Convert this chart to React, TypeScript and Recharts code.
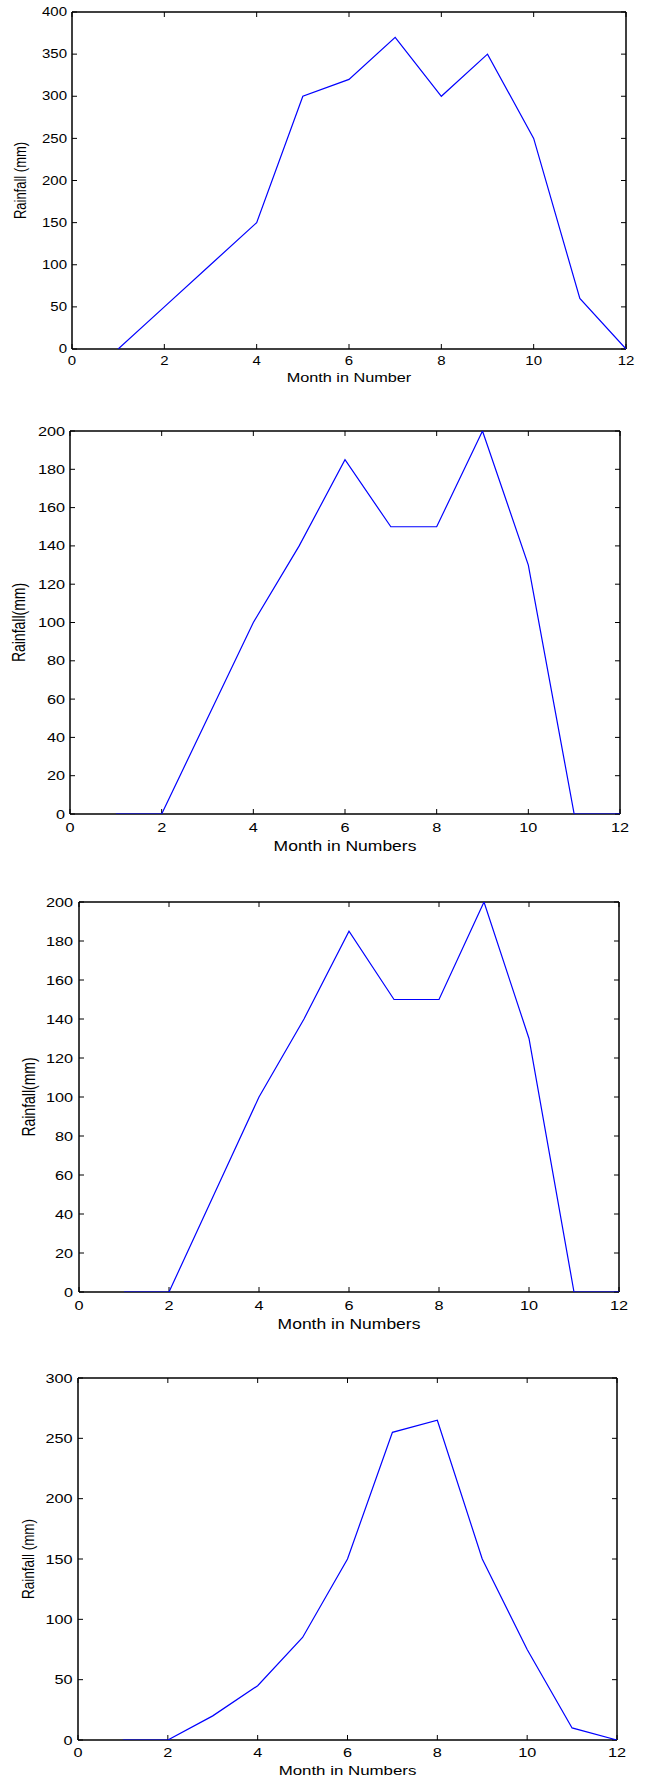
import React from 'react';
import { LineChart, Line, XAxis, YAxis, Label } from 'recharts';

// ---------- data ----------
const months = [1, 2, 3, 4, 5, 6, 7, 8, 9, 10, 11, 12];
const rain1 = [0, 50, 100, 150, 300, 320, 370, 300, 350, 250, 60, 0];
const rain2 = [0, 0, 50, 100, 140, 185, 150, 150, 200, 130, 0, 0];
const rain3 = [0, 0, 50, 100, 140, 185, 150, 150, 200, 130, 0, 0];
const rain4 = [0, 0, 20, 45, 85, 150, 255, 265, 150, 75, 10, 0];

const monthTicks = [0, 2, 4, 6, 8, 10, 12];
const yTicks1 = [0, 50, 100, 150, 200, 250, 300, 350, 400];
const yTicks2 = [0, 20, 40, 60, 80, 100, 120, 140, 160, 180, 200];
const yTicks3 = [0, 20, 40, 60, 80, 100, 120, 140, 160, 180, 200];
const yTicks4 = [0, 50, 100, 150, 200, 250, 300];

const yTitles = ['Rainfall (mm)', 'Rainfall(mm)', 'Rainfall(mm)', 'Rainfall (mm)'];
const xTitles = ['Month in Number', 'Month in Numbers', 'Month in Numbers', 'Month in Numbers'];

// ---------- styling ----------
const FONT = '"Liberation Sans", Arial, Helvetica, sans-serif';
const SX = 1.25; // horizontal stretch of text in the reference
const BLUE = '#0000ff';
const AXIS = '#000000';

type Panel = {
  values: number[];
  yTicks: number[];
  yTitle: string;
  xTitle: string;
  top: number;
  height: number;
  marginTop: number;
  marginRight: number;
  yAxisWidth: number;
  xAxisHeight: number;
  tickFs: number;
  titleFs: number;
  xTickGap: number;
  yTickGap: number;
  xTitleOff: number;
  yTitleX: number;
};

const panels: Panel[] = [
  { values: rain1, yTicks: yTicks1, yTitle: yTitles[0], xTitle: xTitles[0], top: 0, height: 400, marginTop: 12, marginRight: 25, yAxisWidth: 72, xAxisHeight: 51, tickFs: 12, titleFs: 13, xTickGap: 7, yTickGap: 5, xTitleOff: 28.5, yTitleX: 20 },
  { values: rain2, yTicks: yTicks2, yTitle: yTitles[1], xTitle: xTitles[1], top: 400, height: 460, marginTop: 31, marginRight: 31, yAxisWidth: 70, xAxisHeight: 46, tickFs: 13, titleFs: 14, xTickGap: 8.5, yTickGap: 5, xTitleOff: 31.7, yTitleX: 19 },
  { values: rain3, yTicks: yTicks3, yTitle: yTitles[2], xTitle: xTitles[2], top: 860, height: 480, marginTop: 42, marginRight: 32, yAxisWidth: 79, xAxisHeight: 48, tickFs: 13, titleFs: 14, xTickGap: 9, yTickGap: 6, xTitleOff: 32.3, yTitleX: 29 },
  { values: rain4, yTicks: yTicks4, yTitle: yTitles[3], xTitle: xTitles[3], top: 1340, height: 440, marginTop: 38, marginRight: 34, yAxisWidth: 78, xAxisHeight: 40, tickFs: 13, titleFs: 13.5, xTickGap: 7.5, yTickGap: 5.5, xTitleOff: 30, yTitleX: 28 },
];

const makeXTick = (fs: number) => (props: any) => {
  const { x, y, payload } = props;
  return (
    <text
      x={0}
      y={0}
      transform={`translate(${x},${y}) scale(${SX},1)`}
      textAnchor="middle"
      dy="0.71em"
      fontSize={fs}
      fontFamily={FONT}
      fill="#000"
    >
      {payload.value}
    </text>
  );
};

const makeYTick = (fs: number) => (props: any) => {
  const { x, y, payload } = props;
  return (
    <text
      x={0}
      y={0}
      transform={`translate(${x},${y}) scale(${SX},1)`}
      textAnchor="end"
      dy="0.35em"
      fontSize={fs}
      fontFamily={FONT}
      fill="#000"
    >
      {payload.value}
    </text>
  );
};

const emptyTick = () => <g />;

const makeXTitle = (text: string, off: number, fs: number) => (props: any) => {
  const vb = props.viewBox || {};
  const cx = vb.x + vb.width / 2;
  const cy = vb.y + off;
  return (
    <text
      x={0}
      y={0}
      transform={`translate(${cx},${cy}) scale(${SX},1)`}
      textAnchor="middle"
      dy="0.35em"
      fontSize={fs}
      fontFamily={FONT}
      fill="#000"
    >
      {text}
    </text>
  );
};

const makeYTitle = (text: string, px: number, fs: number) => (props: any) => {
  const vb = props.viewBox || {};
  const cx = vb.x + px;
  const cy = vb.y + vb.height / 2;
  return (
    <text
      x={0}
      y={0}
      transform={`translate(${cx},${cy}) scale(${SX},1) rotate(-90)`}
      textAnchor="middle"
      dy="0.35em"
      fontSize={fs}
      fontFamily={FONT}
      fill="#000"
    >
      {text}
    </text>
  );
};

function RainChart({ p }: { p: Panel }) {
  const data = months.map((m, i) => ({ m, v: p.values[i] }));
  const yMax = p.yTicks[p.yTicks.length - 1];
  const xDomain: [number, number] = [0, 12];
  const yDomain: [number, number] = [0, yMax];
  const tickLineStyle = { stroke: AXIS, strokeWidth: 1 };
  const axisLineStyle = { stroke: AXIS, strokeWidth: 1.5 };
  return (
    <LineChart
      width={651}
      height={p.height}
      data={data}
      margin={{ top: p.marginTop, right: p.marginRight, bottom: 0, left: 0 }}
    >
      {/* main axes with labels */}
      <XAxis
        xAxisId="b"
        dataKey="m"
        type="number"
        domain={xDomain}
        ticks={monthTicks}
        interval={0}
        allowDataOverflow
        height={p.xAxisHeight}
        axisLine={axisLineStyle}
        tickLine={false}
        tickSize={0}
        tickMargin={p.xTickGap}
        tick={makeXTick(p.tickFs)}
      >
        <Label content={makeXTitle(p.xTitle, p.xTitleOff, p.titleFs)} />
      </XAxis>
      <YAxis
        yAxisId="l"
        type="number"
        domain={yDomain}
        ticks={p.yTicks}
        interval={0}
        allowDataOverflow
        width={p.yAxisWidth}
        axisLine={axisLineStyle}
        tickLine={false}
        tickSize={0}
        tickMargin={p.yTickGap}
        tick={makeYTick(p.tickFs)}
      >
        <Label content={makeYTitle(p.yTitle, p.yTitleX, p.titleFs)} />
      </YAxis>

      {/* inward tick marks and the box (MATLAB style) */}
      <XAxis
        xAxisId="bm"
        dataKey="m"
        type="number"
        orientation="bottom"
        mirror
        height={1}
        domain={xDomain}
        ticks={monthTicks}
        interval={0}
        allowDataOverflow
        axisLine={false}
        tick={emptyTick}
        tickLine={tickLineStyle}
        tickSize={5}
      />
      <XAxis
        xAxisId="t"
        dataKey="m"
        type="number"
        orientation="top"
        mirror
        height={1}
        domain={xDomain}
        ticks={monthTicks}
        interval={0}
        allowDataOverflow
        axisLine={axisLineStyle}
        tick={emptyTick}
        tickLine={tickLineStyle}
        tickSize={5}
      />
      <YAxis
        yAxisId="lm"
        type="number"
        orientation="left"
        mirror
        width={1}
        domain={yDomain}
        ticks={p.yTicks}
        interval={0}
        allowDataOverflow
        axisLine={false}
        tick={emptyTick}
        tickLine={tickLineStyle}
        tickSize={5}
      />
      <YAxis
        yAxisId="r"
        type="number"
        orientation="right"
        mirror
        width={1}
        domain={yDomain}
        ticks={p.yTicks}
        interval={0}
        allowDataOverflow
        axisLine={axisLineStyle}
        tick={emptyTick}
        tickLine={tickLineStyle}
        tickSize={5}
      />

      <Line
        xAxisId="b"
        yAxisId="l"
        type="linear"
        dataKey="v"
        stroke={BLUE}
        strokeWidth={1.2}
        dot={false}
        activeDot={false}
        isAnimationActive={false}
        zIndex={600}
      />
    </LineChart>
  );
}

export default function App() {
  return (
    <div
      style={{
        position: 'absolute',
        top: 0,
        left: 0,
        width: 651,
        height: 1780,
        background: '#ffffff',
        overflow: 'hidden',
      }}
    >
      {panels.map((p, i) => (
        <div key={i} style={{ position: 'absolute', top: p.top, left: 0, width: 651, height: p.height }}>
          <RainChart p={p} />
        </div>
      ))}
    </div>
  );
}
